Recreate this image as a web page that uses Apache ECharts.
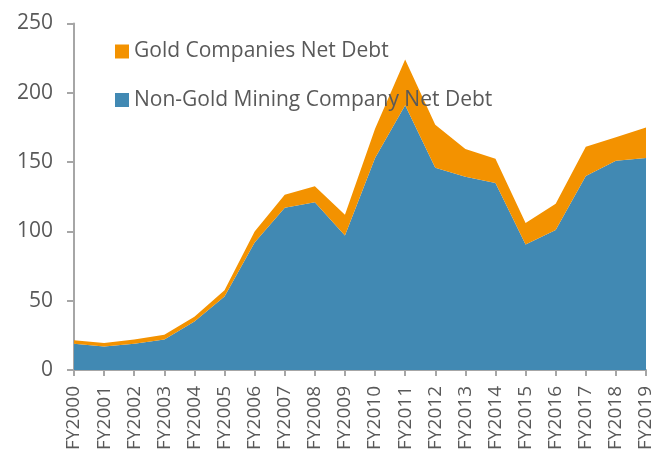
<!DOCTYPE html>
<html>
<head>
<meta charset="utf-8">
<script src="https://cdn.jsdelivr.net/npm/echarts@6/dist/echarts.min.js"></script>
<style>
  html, body { margin: 0; padding: 0; background: #fff; }
  #chart { width: 668px; height: 455px; }
</style>
</head>
<body>
<div id="chart"></div>
<script>
// Fiscal years on the category axis
const years = ['FY2000','FY2001','FY2002','FY2003','FY2004','FY2005','FY2006','FY2007','FY2008','FY2009',
               'FY2010','FY2011','FY2012','FY2013','FY2014','FY2015','FY2016','FY2017','FY2018','FY2019'];

// Net debt of non-gold mining companies (bottom layer of the stack)
const nonGoldDebt = [19, 17, 19, 22, 35, 53, 92, 117, 121, 97,
                     153, 191, 146, 139.5, 135, 90.5, 101, 140, 151, 153];

// Net debt of gold companies (stacked on top)
const goldDebt = [2.5, 2.5, 3, 3.5, 3.5, 4.5, 8, 9.5, 11.5, 15,
                  21, 33, 31, 20, 17.5, 15.5, 19, 21, 17, 22];

const nameGold = 'Gold Companies Net Debt';
const nameNonGold = 'Non-Gold Mining Company Net Debt';

const axisGrey = '#A6A6A6';
const textGrey = '#595959';
const font = '"Open Sans", "Noto Sans", sans-serif';

const chart = echarts.init(document.getElementById('chart'), null, { renderer: 'canvas' });
chart.setOption({
  animation: false,
  textStyle: { fontFamily: font },
  grid: { left: 74, right: 22, top: 23.5, bottom: 85, containLabel: false },
  legend: {
    data: [nameGold, nameNonGold],
    orient: 'vertical',
    left: 110,
    top: 36,
    itemWidth: 14,
    itemHeight: 14,
    itemGap: 27.5,
    icon: 'rect',
    textStyle: { fontFamily: font, fontSize: 21, color: textGrey }
  },
  xAxis: {
    type: 'category',
    data: years,
    boundaryGap: false,
    axisLine: { lineStyle: { color: axisGrey, width: 2 } },
    axisTick: { show: true, length: 6, alignWithLabel: true, lineStyle: { color: axisGrey, width: 2 } },
    axisLabel: { rotate: 90, interval: 0, fontSize: 19, color: textGrey, fontFamily: font, margin: 16 }
  },
  yAxis: {
    type: 'value',
    min: 0,
    max: 250,
    interval: 50,
    axisLine: { show: true, lineStyle: { color: axisGrey, width: 2 } },
    axisTick: { show: true, length: 7, lineStyle: { color: axisGrey, width: 2 } },
    splitLine: { show: false },
    axisLabel: { fontSize: 21, color: textGrey, fontFamily: font, margin: 21 }
  },
  series: [
    {
      name: nameNonGold,
      type: 'line',
      stack: 'debt',
      data: nonGoldDebt,
      showSymbol: false,
      lineStyle: { width: 0 },
      itemStyle: { color: '#4189B3' },
      areaStyle: { color: '#4189B3', opacity: 1 }
    },
    {
      name: nameGold,
      type: 'line',
      stack: 'debt',
      data: goldDebt,
      showSymbol: false,
      lineStyle: { width: 0 },
      itemStyle: { color: '#F39200' },
      areaStyle: { color: '#F39200', opacity: 1 }
    }
  ]
});
</script>
</body>
</html>
